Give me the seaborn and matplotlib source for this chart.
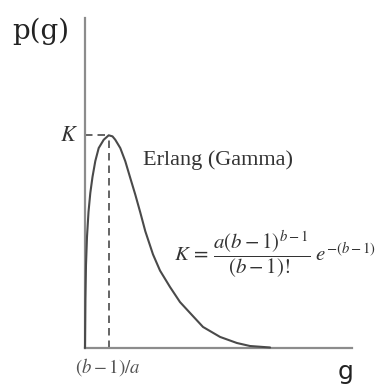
import matplotlib
matplotlib.use("Agg")
import matplotlib.pyplot as plt
import seaborn as sns
import pandas as pd

# Erlang (Gamma) density, sampled along the curve; g in units of the mode (b-1)/a,
# p(g) in units of the peak value K
g_vals = [0.0, 0.017, 0.042, 0.084, 0.148, 0.224, 0.316, 0.435, 0.578, 0.789,
          1.0, 1.160, 1.278, 1.489, 1.70, 1.911, 2.122, 2.333, 2.544, 2.869,
          3.165, 3.586, 4.008, 4.43, 4.979, 5.70, 6.41, 6.96, 7.81]
p_vals = [0.0, 0.226, 0.390, 0.522, 0.640, 0.729, 0.804, 0.879, 0.940, 0.979,
          1.0, 0.995, 0.979, 0.940, 0.878, 0.799, 0.721, 0.637, 0.549, 0.440,
          0.364, 0.287, 0.216, 0.165, 0.099, 0.052, 0.0235, 0.0094, 0.0024]
mode_g = 1.0
peak_k = 1.0

sns.set_theme(style="white")
plt.rcParams["mathtext.fontset"] = "stix"
plt.rcParams["font.family"] = ["DejaVu Serif"]

W, H = 390, 385
fig = plt.figure(figsize=(W / 100, H / 100), dpi=100)
ax = fig.add_axes([85 / W, 1 - 348 / H, 267 / W, 330 / H])

df = pd.DataFrame({"g": g_vals, "p": p_vals})
sns.lineplot(data=df, x="g", y="p", ax=ax, color="#4a4a4a", linewidth=1.5,
             clip_on=False, zorder=5)

# dashed guides to the mode
ax.plot([0, mode_g], [peak_k, peak_k], color="#4a4a4a", lw=1.2,
        dashes=(4.5, 3), clip_on=False)
ax.plot([mode_g, mode_g], [0, peak_k], color="#4a4a4a", lw=1.2,
        dashes=(4.5, 3), clip_on=False)

ax.set_xlim(0, 267 / 23.7)
ax.set_ylim(0, 330 / 212.7)
ax.set_xticks([])
ax.set_yticks([])
ax.set_xlabel("")
ax.set_ylabel("")
for side in ("top", "right"):
    ax.spines[side].set_visible(False)
for side in ("left", "bottom"):
    ax.spines[side].set_color("#8c8c8c")
    ax.spines[side].set_linewidth(1.6)

def ftext(x, y, s, **kw):
    fig.text(x / W, 1 - y / H, s, **kw)

ftext(12, 31, "p(g)", fontsize=20, color="#222222", va="center", ha="left")
ftext(346, 372, "g", fontsize=18, color="#222222", va="center", ha="center",
      family="DejaVu Sans")
ftext(69, 135, r"$K$", fontsize=16, color="#333333", va="center", ha="center")
ftext(143, 160, "Erlang (Gamma)", fontsize=16, color="#333333", va="center",
      ha="left", family="Liberation Serif")
ftext(174, 255, r"$K\,=\,\dfrac{a(b-1)^{b-1}}{(b-1)!}\;e^{-(b-1)}$", fontsize=15,
      color="#333333", va="center", ha="left")
ftext(108, 367, r"$(b-1)/a$", fontsize=13.5, color="#555555", va="center",
      ha="center")

fig.savefig("out.png", dpi=100)
